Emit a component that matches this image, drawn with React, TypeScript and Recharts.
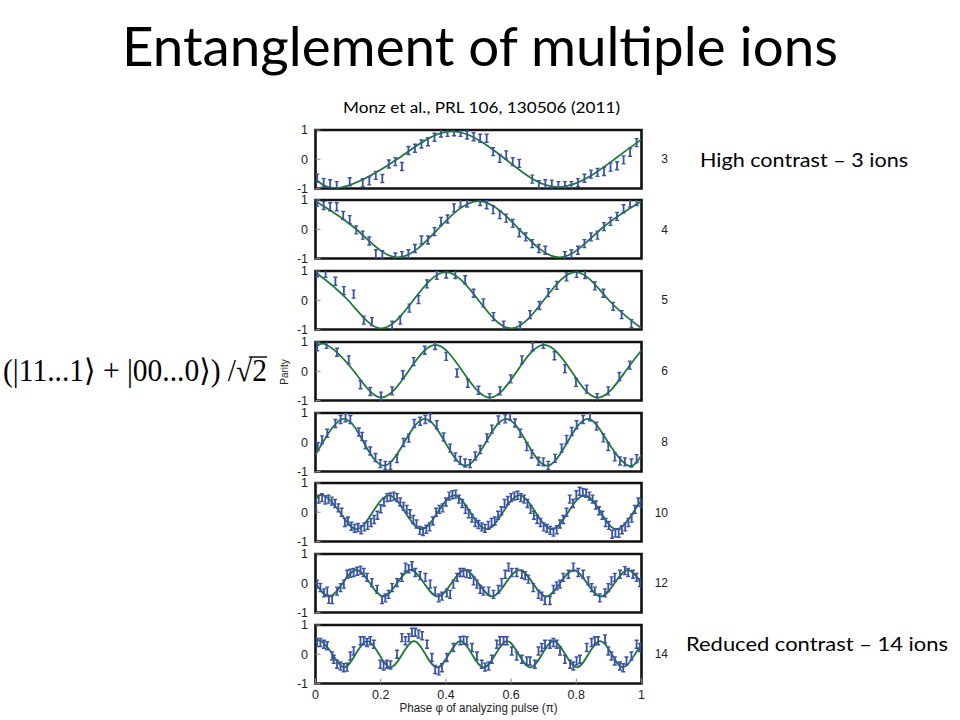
import React from 'react';
import { ComposedChart, Line, Scatter, XAxis, YAxis, ReferenceArea } from 'recharts';

// ---------------- data ----------------
const ionCounts = [3, 4, 5, 6, 8, 10, 12, 14];
const xTicks = [0, 0.2, 0.4, 0.6, 0.8, 1];
const yTicks = [-1, 0, 1];

// fitted curves, read at extrema / zero crossings: [phase, parity]
const fit3 = [[0, -0.68], [0.083, -0.95], [0.25, 0], [0.417, 0.95], [0.583, 0], [0.75, -0.95], [0.917, 0], [1, 0.68]];
const fit4 = [[0, 0.96], [0.125, 0], [0.25, -0.96], [0.375, 0], [0.5, 0.96], [0.625, 0], [0.75, -0.96], [0.875, 0], [1, 0.96]];
const fit5 = [[0, 0.96], [0.1, 0], [0.2, -0.96], [0.3, 0], [0.4, 0.96], [0.5, 0], [0.6, -0.96], [0.7, 0], [0.8, 0.96], [0.9, 0], [1, -0.96]];
const fit6 = [[0, 0.76], [0.035, 0.9], [0.118, 0], [0.201, -0.9], [0.285, 0], [0.368, 0.9], [0.451, 0], [0.535, -0.9], [0.618, 0], [0.701, 0.9], [0.785, 0], [0.868, -0.9], [0.951, 0], [1, 0.72]];
const fit8 = [[0, -0.43], [0.0225, 0], [0.085, 0.8], [0.1475, 0], [0.21, -0.8], [0.2725, 0], [0.335, 0.8], [0.3975, 0], [0.46, -0.8], [0.5225, 0], [0.585, 0.8], [0.6475, 0], [0.71, -0.8], [0.7725, 0], [0.835, 0.8], [0.8975, 0], [0.96, -0.8], [1, -0.43]];
const fit10 = [[0, 0.41], [0.025, 0.58], [0.075, 0], [0.125, -0.58], [0.175, 0], [0.225, 0.58], [0.275, 0], [0.325, -0.58], [0.375, 0], [0.425, 0.58], [0.475, 0], [0.525, -0.58], [0.575, 0], [0.625, 0.58], [0.675, 0], [0.725, -0.58], [0.775, 0], [0.825, 0.58], [0.875, 0], [0.925, -0.58], [0.975, 0], [1, 0.41]];
const fit12 = [[0, 0], [0.042, -0.45], [0.083, 0], [0.125, 0.45], [0.167, 0], [0.208, -0.45], [0.25, 0], [0.292, 0.45], [0.333, 0], [0.375, -0.45], [0.417, 0], [0.458, 0.45], [0.5, 0], [0.542, -0.45], [0.583, 0], [0.625, 0.45], [0.667, 0], [0.708, -0.45], [0.75, 0], [0.792, 0.45], [0.833, 0], [0.875, -0.45], [0.917, 0], [0.958, 0.45], [1, 0]];
const fit14 = [[0, 0.38], [0.016, 0.45], [0.052, 0], [0.087, -0.45], [0.123, 0], [0.159, 0.45], [0.195, 0], [0.23, -0.45], [0.266, 0], [0.302, 0.45], [0.337, 0], [0.373, -0.45], [0.409, 0], [0.445, 0.45], [0.48, 0], [0.516, -0.45], [0.552, 0], [0.588, 0.45], [0.623, 0], [0.659, -0.45], [0.695, 0], [0.73, 0.45], [0.766, 0], [0.802, -0.45], [0.837, 0], [0.873, 0.45], [0.909, 0], [0.944, -0.45], [0.98, 0], [1, 0.33]];

// measured parity points: [phase, parity]
const pts3 = [[0.005, -0.65], [0.025, -0.8], [0.045, -0.84], [0.065, -0.9], [0.105, -0.77], [0.145, -0.8], [0.165, -0.74], [0.185, -0.55], [0.205, -0.66], [0.225, -0.16], [0.245, -0.08], [0.265, -0.25], [0.285, 0.3], [0.305, 0.375], [0.325, 0.52], [0.345, 0.6], [0.365, 0.75], [0.385, 0.9], [0.405, 0.92], [0.425, 0.94], [0.445, 0.92], [0.465, 0.83], [0.485, 0.77], [0.505, 0.72], [0.525, 0.72], [0.545, 0.26], [0.565, 0.03], [0.585, 0.15], [0.605, -0.08], [0.625, -0.14], [0.665, -0.68], [0.685, -0.87], [0.705, -0.84], [0.725, -0.85], [0.745, -0.9], [0.765, -0.9], [0.785, -0.9], [0.805, -0.8], [0.825, -0.65], [0.845, -0.51], [0.865, -0.45], [0.885, -0.42], [0.905, -0.27], [0.925, -0.22], [0.945, -0.02], [0.965, 0.24], [0.985, 0.57]];
const pts4 = [[0.005, 0.92], [0.025, 0.81], [0.045, 0.77], [0.065, 0.77], [0.085, 0.47], [0.105, 0.33], [0.125, -0.02], [0.145, -0.2], [0.165, -0.4], [0.185, -0.84], [0.205, -0.87], [0.245, -0.95], [0.265, -0.9], [0.285, -0.84], [0.305, -0.66], [0.325, -0.37], [0.345, -0.37], [0.365, -0.08], [0.385, 0.27], [0.405, 0.35], [0.425, 0.73], [0.445, 0.9], [0.465, 0.9], [0.505, 0.95], [0.525, 0.84], [0.545, 0.67], [0.565, 0.5], [0.585, 0.38], [0.605, 0.2], [0.625, -0.12], [0.645, -0.26], [0.665, -0.49], [0.685, -0.66], [0.705, -0.72], [0.765, -0.9], [0.785, -0.84], [0.805, -0.72], [0.825, -0.49], [0.845, -0.26], [0.865, -0.2], [0.885, 0.09], [0.905, 0.27], [0.925, 0.44], [0.945, 0.7], [0.965, 0.9], [0.985, 0.95]];
const pts5 = [[0.005, 0.94], [0.031, 0.92], [0.061, 0.65], [0.087, 0.33], [0.117, 0.21], [0.148, -0.68], [0.173, -0.73], [0.235, -0.85], [0.26, -0.68], [0.288, -0.27], [0.316, 0.02], [0.342, 0.56], [0.372, 0.85], [0.401, 0.9], [0.429, 0.88], [0.459, 0.7], [0.485, 0.24], [0.515, -0.09], [0.546, -0.56], [0.577, -0.85], [0.628, -0.88], [0.658, -0.49], [0.687, -0.18], [0.714, 0.26], [0.74, 0.51], [0.77, 0.8], [0.801, 0.92], [0.827, 0.88], [0.857, 0.49], [0.883, 0.24], [0.913, -0.21], [0.939, -0.49], [0.969, -0.8]];
const pts6 = [[0.005, 0.84], [0.034, 0.92], [0.066, 0.65], [0.102, 0.39], [0.138, -0.46], [0.168, -0.69], [0.201, -0.85], [0.235, -0.67], [0.268, -0.12], [0.301, 0.33], [0.335, 0.72], [0.367, 0.88], [0.401, 0.51], [0.434, -0.06], [0.467, -0.41], [0.5, -0.65], [0.534, -0.9], [0.566, -0.67], [0.599, -0.26], [0.633, 0.39], [0.666, 0.84], [0.699, 0.92], [0.733, 0.53], [0.765, 0.09], [0.799, -0.38], [0.832, -0.61], [0.864, -0.9], [0.898, -0.67], [0.932, -0.18], [0.964, 0.21]];
const pts8 = [[0.007, -0.15], [0.02, 0.08], [0.036, 0.31], [0.061, 0.64], [0.077, 0.78], [0.092, 0.84], [0.107, 0.78], [0.133, 0.35], [0.143, 0.2], [0.153, -0.09], [0.168, -0.3], [0.184, -0.52], [0.199, -0.73], [0.214, -0.79], [0.23, -0.79], [0.25, -0.56], [0.27, -0.01], [0.286, 0.14], [0.303, 0.64], [0.321, 0.72], [0.337, 0.78], [0.352, 0.84], [0.372, 0.6], [0.393, 0.18], [0.413, -0.2], [0.429, -0.5], [0.444, -0.62], [0.459, -0.71], [0.474, -0.73], [0.49, -0.47], [0.505, -0.25], [0.526, 0.15], [0.541, 0.45], [0.561, 0.76], [0.582, 0.8], [0.597, 0.9], [0.612, 0.66], [0.628, 0.31], [0.648, -0.15], [0.663, -0.4], [0.684, -0.65], [0.699, -0.67], [0.714, -0.79], [0.735, -0.55], [0.755, -0.2], [0.77, 0.1], [0.786, 0.37], [0.801, 0.6], [0.821, 0.78], [0.842, 0.87], [0.862, 0.55], [0.883, 0.15], [0.898, -0.15], [0.918, -0.5], [0.934, -0.64], [0.949, -0.67], [0.969, -0.71], [0.985, -0.56]];
const pts10 = [[0.0, 0.2], [0.01, 0.45], [0.02, 0.5], [0.03, 0.42], [0.04, 0.45], [0.05, 0.38], [0.06, 0.3], [0.07, 0.15], [0.08, 0.0], [0.09, -0.35], [0.1, -0.3], [0.11, -0.48], [0.12, -0.55], [0.13, -0.52], [0.14, -0.6], [0.15, -0.5], [0.16, -0.45], [0.17, -0.35], [0.18, -0.25], [0.19, -0.1], [0.2, 0.12], [0.21, 0.35], [0.22, 0.5], [0.23, 0.52], [0.24, 0.55], [0.25, 0.5], [0.26, 0.35], [0.27, 0.2], [0.28, 0.1], [0.29, -0.05], [0.3, -0.25], [0.31, -0.4], [0.32, -0.62], [0.33, -0.66], [0.34, -0.58], [0.35, -0.5], [0.36, -0.3], [0.37, 0.0], [0.38, 0.1], [0.39, 0.15], [0.4, 0.35], [0.41, 0.55], [0.42, 0.6], [0.43, 0.62], [0.44, 0.45], [0.45, 0.3], [0.46, 0.1], [0.47, -0.05], [0.48, -0.2], [0.49, -0.35], [0.5, -0.42], [0.51, -0.5], [0.52, -0.55], [0.53, -0.45], [0.54, -0.35], [0.55, -0.3], [0.56, -0.1], [0.57, 0.05], [0.58, 0.3], [0.59, 0.4], [0.6, 0.5], [0.61, 0.55], [0.62, 0.58], [0.63, 0.5], [0.64, 0.45], [0.65, 0.3], [0.66, 0.1], [0.67, -0.1], [0.68, -0.25], [0.69, -0.35], [0.7, -0.5], [0.71, -0.55], [0.72, -0.62], [0.73, -0.68], [0.74, -0.6], [0.75, -0.4], [0.76, -0.25], [0.77, 0.0], [0.78, 0.45], [0.79, 0.3], [0.8, 0.6], [0.81, 0.72], [0.82, 0.68], [0.83, 0.65], [0.84, 0.55], [0.85, 0.45], [0.86, 0.25], [0.87, 0.05], [0.88, -0.1], [0.89, -0.35], [0.9, -0.45], [0.91, -0.75], [0.92, -0.7], [0.93, -0.72], [0.94, -0.6], [0.95, -0.5], [0.96, -0.35], [0.97, -0.2], [0.98, 0.1], [0.99, 0.35], [1.0, 0.3]];
const pts12 = [[0.005, -0.03], [0.015, -0.15], [0.026, -0.33], [0.036, -0.27], [0.041, -0.55], [0.051, -0.56], [0.066, -0.27], [0.077, -0.15], [0.087, -0.03], [0.097, 0.31], [0.107, 0.34], [0.117, 0.37], [0.128, 0.41], [0.138, 0.45], [0.148, 0.37], [0.158, 0.2], [0.173, 0.02], [0.189, -0.21], [0.204, -0.56], [0.214, -0.5], [0.224, -0.38], [0.235, -0.15], [0.25, 0.02], [0.265, 0.2], [0.276, 0.55], [0.286, 0.49], [0.296, 0.6], [0.306, 0.37], [0.321, 0.26], [0.337, 0.2], [0.352, -0.03], [0.367, -0.27], [0.378, -0.5], [0.388, -0.44], [0.403, -0.33], [0.413, -0.38], [0.423, -0.03], [0.434, 0.2], [0.444, 0.37], [0.454, 0.37], [0.464, 0.33], [0.474, 0.31], [0.485, 0.08], [0.495, -0.03], [0.505, -0.21], [0.515, -0.27], [0.531, -0.27], [0.546, -0.38], [0.561, -0.21], [0.571, 0.02], [0.582, 0.31], [0.592, 0.55], [0.602, 0.37], [0.617, 0.37], [0.633, 0.31], [0.643, 0.26], [0.653, 0.14], [0.668, -0.15], [0.684, -0.38], [0.694, -0.44], [0.704, -0.59], [0.719, -0.59], [0.73, -0.21], [0.74, -0.09], [0.75, -0.03], [0.76, 0.2], [0.776, 0.31], [0.791, 0.55], [0.806, 0.37], [0.821, 0.31], [0.837, 0.08], [0.847, -0.15], [0.857, -0.27], [0.872, -0.5], [0.888, -0.33], [0.898, -0.15], [0.908, 0.08], [0.918, 0.2], [0.934, 0.31], [0.949, 0.43], [0.959, 0.37], [0.974, 0.31], [0.985, 0.2], [0.995, 0.02]];
const pts14 = [[0.005, 0.4], [0.015, 0.4], [0.026, 0.34], [0.036, 0.29], [0.051, -0.06], [0.056, -0.17], [0.066, -0.34], [0.077, -0.4], [0.087, -0.46], [0.097, -0.44], [0.107, -0.06], [0.117, 0.11], [0.138, 0.46], [0.148, 0.46], [0.158, 0.4], [0.168, 0.46], [0.179, 0.34], [0.199, -0.34], [0.209, -0.4], [0.219, -0.34], [0.23, -0.37], [0.25, 0.0], [0.265, 0.57], [0.276, 0.46], [0.286, 0.57], [0.296, 0.75], [0.306, 0.75], [0.316, 0.69], [0.327, 0.63], [0.342, 0.34], [0.357, -0.11], [0.367, -0.52], [0.378, -0.57], [0.388, -0.46], [0.403, -0.11], [0.423, 0.23], [0.444, 0.46], [0.454, 0.48], [0.464, 0.46], [0.48, 0.23], [0.495, -0.06], [0.51, -0.34], [0.52, -0.44], [0.531, -0.4], [0.541, -0.17], [0.556, 0.34], [0.566, 0.46], [0.577, 0.46], [0.587, 0.46], [0.602, 0.11], [0.617, -0.06], [0.633, -0.17], [0.648, -0.23], [0.658, -0.23], [0.673, -0.34], [0.684, 0.11], [0.694, 0.23], [0.704, 0.34], [0.719, 0.34], [0.73, 0.4], [0.74, 0.34], [0.75, 0.11], [0.765, -0.17], [0.781, -0.34], [0.791, -0.4], [0.801, -0.23], [0.811, -0.17], [0.832, 0.23], [0.847, 0.4], [0.857, 0.46], [0.867, 0.46], [0.888, 0.52], [0.898, 0.11], [0.908, -0.06], [0.918, -0.23], [0.934, -0.4], [0.944, -0.46], [0.954, -0.23], [0.969, -0.06], [0.985, 0.34], [0.995, 0.23]];

const fits = [fit3, fit4, fit5, fit6, fit8, fit10, fit12, fit14];
const points = [pts3, pts4, pts5, pts6, pts8, pts10, pts12, pts14];

// ---------------- layout / style ----------------
const PLOT_L = 315.5;
const PLOT_R = 641.5;
const TOP0 = 129.5;
const PITCH = 70.75;
const PLOT_H = 58.5;
const GREEN = '#1f7a36';
const BLUE = '#3a52a6';
const SANS = '"Liberation Sans", Arial, Helvetica, sans-serif';
const CAL = 'Lato, "Open Sans", sans-serif';
const SERIF = '"Liberation Serif", "DejaVu Serif", serif';

const rows = (arr: number[][]) => arr.map(([x, y]) => ({ x, y }));

const IBeam = (props: any) => {
  const { cx, cy } = props;
  if (cx == null || cy == null) return <g />;
  const h = 4;
  const w = 2;
  return (
    <g>
      <line x1={cx} x2={cx} y1={cy - h} y2={cy + h} stroke={BLUE} strokeWidth={1.8} />
      <line x1={cx - w} x2={cx + w} y1={cy - h} y2={cy - h} stroke={BLUE} strokeWidth={1.4} />
      <line x1={cx - w} x2={cx + w} y1={cy + h} y2={cy + h} stroke={BLUE} strokeWidth={1.4} />
    </g>
  );
};

function Panel({ idx }: { idx: number }) {
  const isLast = idx === fits.length - 1;
  const top = TOP0 + PITCH * idx;
  const padTop = 10;
  const padBottom = isLast ? 2 : 10;
  const xAxisH = isLast ? 30 : 0;
  const h = PLOT_H + padTop + padBottom + xAxisH;
  const tickStyle = { fontSize: 12.5, fill: '#222', fontFamily: SANS };
  const tl = { stroke: '#8a8a8a', strokeWidth: 1 };
  return (
    <div style={{ position: 'absolute', left: 0, top: top - padTop, width: 960, height: h }}>
      <ComposedChart
        width={960}
        height={h}
        margin={{ top: padTop, bottom: padBottom, left: PLOT_L - 40, right: 960 - PLOT_R - 40 }}
      >
        <XAxis
          xAxisId="b"
          dataKey="x"
          type="number"
          domain={[0, 1]}
          ticks={xTicks}
          allowDataOverflow
          orientation="bottom"
          height={xAxisH}
          axisLine={false}
          tickLine={tl}
          tickSize={-5}
          tickMargin={12}
          tick={isLast ? tickStyle : false}
          interval={0}
        />
        <XAxis
          xAxisId="t"
          dataKey="x"
          type="number"
          domain={[0, 1]}
          ticks={xTicks}
          allowDataOverflow
          orientation="top"
          height={0}
          axisLine={false}
          tickLine={tl}
          tickSize={-5}
          tick={false}
          interval={0}
        />
        <YAxis
          yAxisId="l"
          dataKey="y"
          type="number"
          domain={[-1, 1]}
          ticks={yTicks}
          allowDataOverflow
          width={40}
          axisLine={false}
          tickLine={tl}
          tickSize={-5}
          tickMargin={12.5}
          tick={tickStyle}
          interval={0}
        />
        <YAxis
          yAxisId="r"
          orientation="right"
          type="number"
          domain={[-1, 1]}
          ticks={yTicks}
          allowDataOverflow
          width={40}
          axisLine={false}
          tickLine={tl}
          tickSize={-5}
          tick={false}
          interval={0}
        />
        <Line
          xAxisId="b"
          yAxisId="l"
          data={rows(fits[idx])}
          dataKey="y"
          type="natural"
          stroke={GREEN}
          strokeWidth={1.8}
          dot={false}
          activeDot={false}
          isAnimationActive={false}
        />
        <Scatter
          xAxisId="b"
          yAxisId="l"
          data={rows(points[idx])}
          dataKey="y"
          shape={IBeam}
          isAnimationActive={false}
        />
        <ReferenceArea
          xAxisId="b"
          yAxisId="l"
          x1={0}
          x2={1}
          y1={-1}
          y2={1}
          fill="none"
          fillOpacity={0}
          stroke="#111"
          strokeWidth={2.6}
        />
      </ComposedChart>
    </div>
  );
}

export default function App() {
  return (
    <div
      style={{
        position: 'absolute',
        left: 0,
        top: 0,
        width: 960,
        height: 720,
        background: '#fff',
        overflow: 'hidden',
      }}
    >
      {fits.map((_, i) => (
        <Panel key={i} idx={i} />
      ))}
      <svg
        width={960}
        height={720}
        style={{ position: 'absolute', left: 0, top: 0, pointerEvents: 'none' }}
      >
        <text
          x={480}
          y={66}
          textAnchor="middle"
          fontFamily={CAL}
          fontSize={54}
          fill="#000"
          textLength={716}
          lengthAdjust="spacingAndGlyphs"
        >
          Entanglement of multiple ions
        </text>
        <text
          x={481.5}
          y={113}
          textAnchor="middle"
          fontFamily={CAL}
          fontSize={15.5}
          fill="#000"
          textLength={277}
          lengthAdjust="spacingAndGlyphs"
        >
          Monz et al., PRL 106, 130506 (2011)
        </text>
        <text
          x={700}
          y={166.5}
          fontFamily={CAL}
          fontSize={19}
          fill="#000"
          textLength={208}
          lengthAdjust="spacingAndGlyphs"
        >
          High contrast – 3 ions
        </text>
        <text
          x={686}
          y={651}
          fontFamily={CAL}
          fontSize={19}
          fill="#000"
          textLength={262}
          lengthAdjust="spacingAndGlyphs"
        >
          Reduced contrast – 14 ions
        </text>
        <text
          x={3}
          y={381}
          fontFamily={SERIF}
          fontSize={31}
          fill="#000"
          textLength={264}
          lengthAdjust="spacingAndGlyphs"
        >
          (|11...1⟩ + |00...0⟩) /√2
        </text>
        <line x1={249} x2={267} y1={357} y2={357} stroke="#000" strokeWidth={1.4} />
        <text
          x={0}
          y={0}
          transform="translate(288,372) rotate(-90)"
          textAnchor="middle"
          fontFamily={SANS}
          fontSize={10}
          fill="#222"
        >
          Parity
        </text>
        <text
          x={478.5}
          y={712}
          textAnchor="middle"
          fontFamily={SANS}
          fontSize={12.5}
          fill="#222"
          textLength={158}
          lengthAdjust="spacingAndGlyphs"
        >
          Phase φ of analyzing pulse (π)
        </text>
        {ionCounts.map((n, i) => (
          <text
            key={n}
            x={668}
            y={TOP0 + PITCH * i + PLOT_H / 2}
            textAnchor="end"
            dominantBaseline="central"
            fontFamily={SANS}
            fontSize={12}
            fill="#222"
          >
            {n}
          </text>
        ))}
      </svg>
    </div>
  );
}
